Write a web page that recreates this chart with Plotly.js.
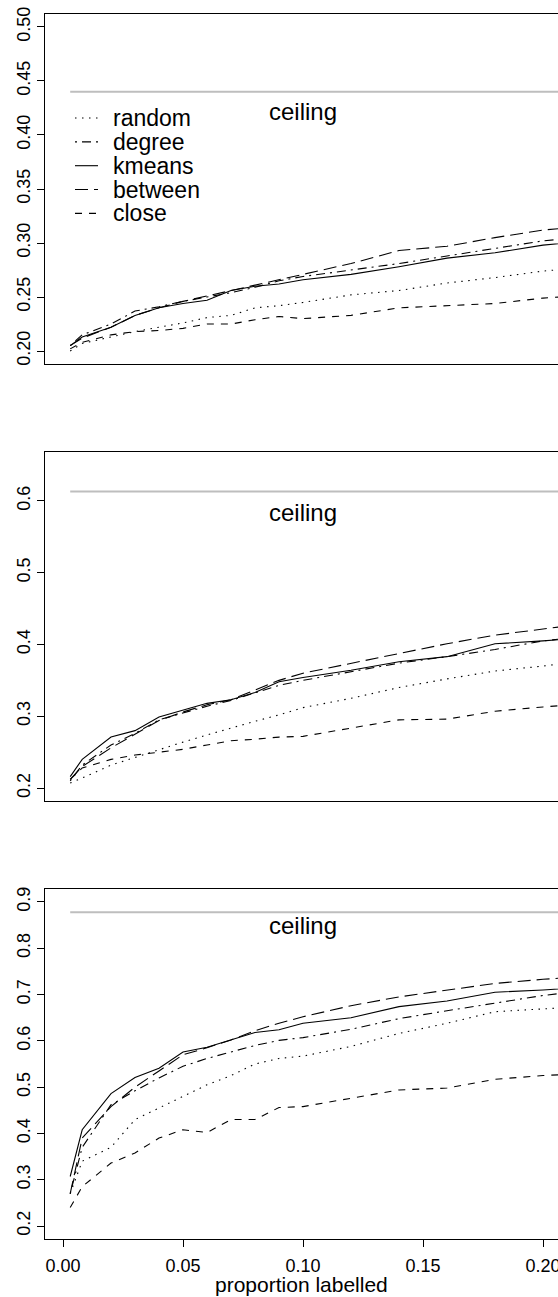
<!DOCTYPE html>
<html>
<head>
<meta charset="utf-8">
<script src="https://cdn.plot.ly/plotly-3.0.1.min.js"></script>
<style>html,body{margin:0;padding:0;background:#fff;overflow:hidden}#chart{width:558px;height:1297px}</style>
</head>
<body>
<div id="chart"></div>
<script>
// proportion labelled (x values shared by every panel)
const propLabelled = [0.003, 0.008, 0.02, 0.03, 0.04, 0.05, 0.06, 0.07, 0.08, 0.09, 0.10, 0.12, 0.14, 0.16, 0.18, 0.20, 0.22];

const methods = ['random', 'degree', 'kmeans', 'between', 'close'];

// panel 1 (top)
const random1  = [0.200, 0.207, 0.213, 0.218, 0.222, 0.226, 0.231, 0.233, 0.240, 0.242, 0.245, 0.252, 0.256, 0.263, 0.268, 0.274, 0.278];
const degree1  = [0.205, 0.215, 0.225, 0.237, 0.241, 0.246, 0.250, 0.254, 0.259, 0.265, 0.269, 0.275, 0.281, 0.288, 0.295, 0.302, 0.306];
const kmeans1  = [0.205, 0.213, 0.222, 0.233, 0.240, 0.244, 0.247, 0.256, 0.260, 0.262, 0.266, 0.271, 0.278, 0.286, 0.291, 0.298, 0.302];
const between1 = [0.205, 0.212, 0.222, 0.233, 0.240, 0.246, 0.251, 0.256, 0.261, 0.266, 0.271, 0.281, 0.293, 0.297, 0.305, 0.312, 0.316];
const close1   = [0.202, 0.208, 0.215, 0.218, 0.219, 0.221, 0.225, 0.225, 0.229, 0.232, 0.230, 0.233, 0.240, 0.242, 0.244, 0.249, 0.252];

// panel 2 (middle)
const random2  = [0.207, 0.214, 0.232, 0.243, 0.253, 0.264, 0.274, 0.284, 0.293, 0.302, 0.312, 0.325, 0.340, 0.352, 0.363, 0.370, 0.378];
const degree2  = [0.210, 0.232, 0.260, 0.276, 0.295, 0.305, 0.314, 0.322, 0.332, 0.343, 0.350, 0.362, 0.374, 0.383, 0.393, 0.405, 0.412];
const kmeans2  = [0.216, 0.240, 0.271, 0.280, 0.299, 0.309, 0.318, 0.323, 0.333, 0.348, 0.354, 0.364, 0.376, 0.383, 0.401, 0.405, 0.410];
const between2 = [0.212, 0.230, 0.256, 0.275, 0.294, 0.306, 0.316, 0.323, 0.336, 0.350, 0.360, 0.374, 0.388, 0.401, 0.413, 0.422, 0.430];
const close2   = [0.212, 0.228, 0.240, 0.246, 0.250, 0.254, 0.260, 0.266, 0.268, 0.271, 0.272, 0.283, 0.295, 0.296, 0.307, 0.313, 0.318];

// panel 3 (bottom)
const random3  = [0.270, 0.340, 0.370, 0.430, 0.455, 0.480, 0.505, 0.525, 0.550, 0.562, 0.567, 0.588, 0.616, 0.638, 0.663, 0.669, 0.675];
const degree3  = [0.270, 0.370, 0.462, 0.492, 0.520, 0.545, 0.562, 0.576, 0.590, 0.601, 0.607, 0.625, 0.648, 0.665, 0.682, 0.698, 0.710];
const kmeans3  = [0.307, 0.408, 0.486, 0.521, 0.541, 0.576, 0.586, 0.602, 0.618, 0.624, 0.638, 0.650, 0.674, 0.686, 0.705, 0.710, 0.716];
const between3 = [0.270, 0.390, 0.458, 0.500, 0.535, 0.570, 0.585, 0.602, 0.622, 0.638, 0.652, 0.676, 0.695, 0.710, 0.724, 0.733, 0.740];
const close3   = [0.240, 0.285, 0.336, 0.358, 0.390, 0.408, 0.402, 0.430, 0.430, 0.456, 0.458, 0.476, 0.494, 0.498, 0.517, 0.525, 0.530];

const ceilings = [0.44, 0.613, 0.878];
const ceilingLabel = 'ceiling';
const xTickVals = [0.00, 0.05, 0.10, 0.15, 0.20];
const yTicks1 = [0.20, 0.25, 0.30, 0.35, 0.40, 0.45, 0.50];
const yTicks2 = [0.2, 0.3, 0.4, 0.5, 0.6];
const yTicks3 = [0.2, 0.3, 0.4, 0.5, 0.6, 0.7, 0.8, 0.9];
const xTitle = 'proportion labelled';
const yTitle = 'accuracy';

const panelSeries = [
  {random: random1, degree: degree1, kmeans: kmeans1, between: between1, close: close1},
  {random: random2, degree: degree2, kmeans: kmeans2, between: between2, close: close2},
  {random: random3, degree: degree3, kmeans: kmeans3, between: between3, close: close3}
];
const yTicks = [yTicks1, yTicks2, yTicks3];

// ---- styling / layout ----
const W = 558, H = 1297, L = 45;
const FONT = 'Liberation Sans, Arial, Helvetica, sans-serif';
const dashOf = {
  random: '1.5px,5.5px',
  degree: '2px,5px,9px,5px',
  kmeans: 'solid',
  between: '13px,6px',
  close: '7px,7px'
};
const panelPix = [[14, 364], [452, 801], [889, 1239]];
const yRanges = [[0.188, 0.512], [0.182, 0.668], [0.172, 0.928]];
const yFormats = ['.2f', '.1f', '.1f'];
const ceilShift = [-20, -21, -13];
const xRange = [-0.0075, (W - L) / 2400 - 0.0075];

const traces = [];
const annotations = [];
const shapes = [];
const layout = {
  width: W, height: H,
  margin: {l: L, r: 0, t: 0, b: 0, pad: 0},
  paper_bgcolor: '#fff', plot_bgcolor: '#fff',
  showlegend: false,
  font: {family: FONT, color: '#000'}
};

panelSeries.forEach((ser, p) => {
  const xa = p === 0 ? 'x' : 'x' + (p + 1);
  const ya = p === 0 ? 'y' : 'y' + (p + 1);
  // ceiling line
  traces.push({
    x: [propLabelled[0], propLabelled[propLabelled.length - 1]],
    y: [ceilings[p], ceilings[p]],
    xaxis: xa, yaxis: ya, mode: 'lines', hoverinfo: 'skip',
    line: {color: '#bebebe', width: 2}
  });
  methods.forEach(m => {
    traces.push({
      x: propLabelled, y: ser[m], name: m,
      xaxis: xa, yaxis: ya, mode: 'lines',
      line: {color: '#000', width: 1.1, dash: dashOf[m]}
    });
  });
  const dom = [1 - panelPix[p][1] / H, 1 - panelPix[p][0] / H];
  const isBottom = p === 2;
  layout['xaxis' + (p === 0 ? '' : p + 1)] = {
    domain: [0, 1], anchor: ya, range: xRange,
    showgrid: false, zeroline: false,
    showline: true, mirror: true, linecolor: '#000', linewidth: 1,
    ticks: isBottom ? 'outside' : '', ticklen: 7, tickcolor: '#000', tickwidth: 1,
    showticklabels: isBottom, ticklabeloverflow: 'allow', ticklabelstandoff: 3,
    tickvals: isBottom ? xTickVals : [], tickformat: '.2f',
    tickfont: {family: FONT, size: 18, color: '#000'}
  };
  layout['yaxis' + (p === 0 ? '' : p + 1)] = {
    domain: dom, anchor: xa, range: yRanges[p],
    showgrid: false, zeroline: false,
    showline: true, mirror: false, linecolor: '#000', linewidth: 1,
    ticks: 'outside', ticklen: 7, tickcolor: '#000', tickwidth: 1,
    tickvals: yTicks[p], tickformat: yFormats[p], tickangle: -90,
    tickfont: {family: FONT, size: 18, color: '#000'}
  };
  annotations.push({
    x: xTickVals[2], y: ceilings[p], xref: xa, yref: ya,
    text: ceilingLabel, showarrow: false, xanchor: 'center', yanchor: 'middle',
    yshift: ceilShift[p], font: {family: FONT, size: 24, color: '#000'}
  });
});

// legend (top panel) built from the method names
const px2x = v => (v - L) / (W - L);
const px2y = v => 1 - v / H;
methods.forEach((m, i) => {
  const yy = 118 + 23.85 * i;
  shapes.push({
    type: 'line', xref: 'paper', yref: 'paper',
    x0: px2x(75), x1: px2x(98), y0: px2y(yy), y1: px2y(yy),
    line: {color: '#000', width: 1.1, dash: dashOf[m]}
  });
  annotations.push({
    x: px2x(111), y: px2y(yy), xref: 'paper', yref: 'paper',
    text: m, showarrow: false, xanchor: 'left', yanchor: 'middle',
    font: {family: FONT, size: 23, color: '#000'}
  });
});

// x axis title
annotations.push({
  x: 0.5, y: px2y(1284), xref: 'paper', yref: 'paper',
  text: xTitle, showarrow: false, xanchor: 'center', yanchor: 'middle',
  font: {family: FONT, size: 21, color: '#000'}
});
// y axis title (mostly outside the visible page, as in the reference)
annotations.push({
  x: px2x(1), y: px2y(626), xref: 'paper', yref: 'paper',
  text: yTitle, showarrow: false, xanchor: 'right', yanchor: 'middle',
  textangle: -90, font: {family: FONT, size: 21, color: '#000'}
});

layout.annotations = annotations;
layout.shapes = shapes;

Plotly.newPlot('chart', traces, layout, {displayModeBar: false, staticPlot: true});
</script>
</body>
</html>
